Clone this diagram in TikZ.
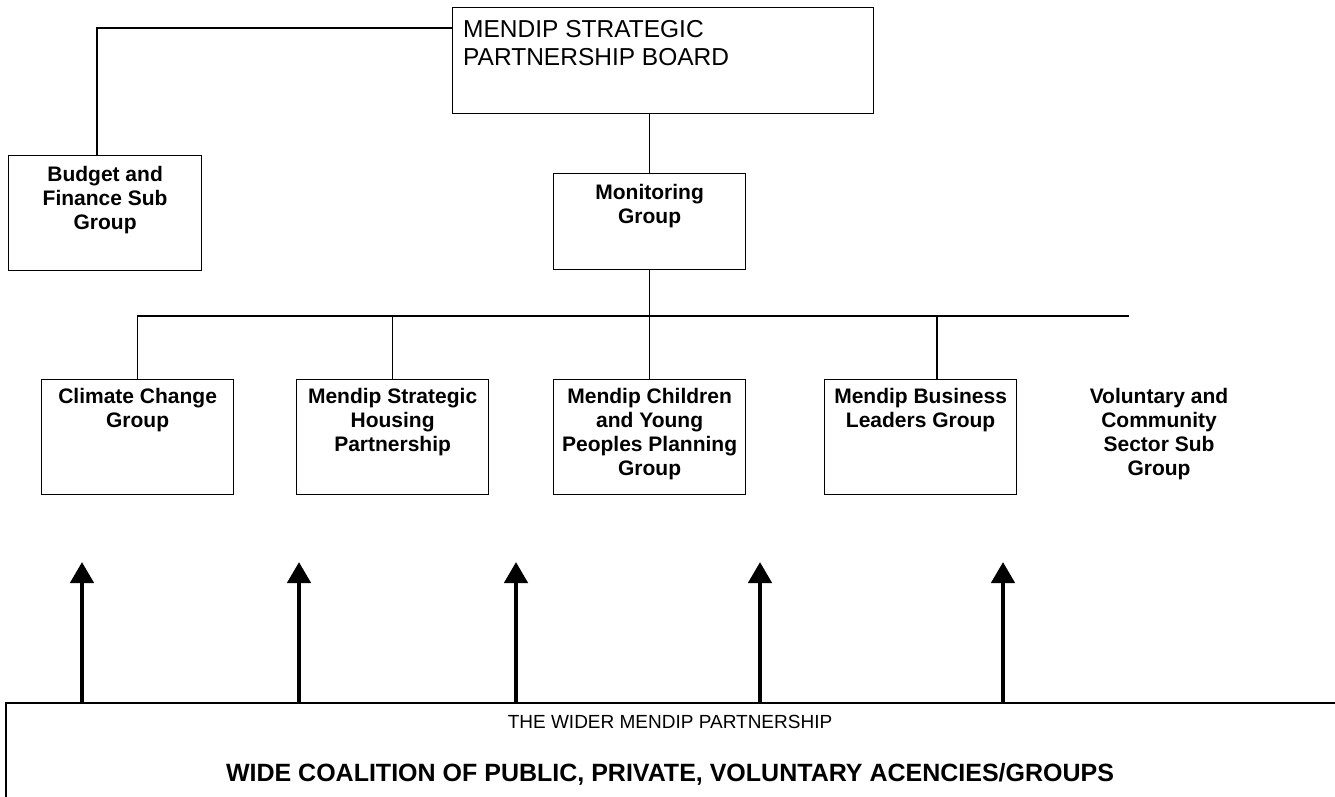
\documentclass[tikz,border=0pt]{standalone}
\usepackage{fontspec}
\setmainfont{Liberation Sans}
\usetikzlibrary{arrows.meta}
\tikzset{>=stealth}

\begin{document}
\begin{tikzpicture}[x=1pt,y=-1pt,
  box/.style={draw,line width=1.2pt,inner sep=0pt,anchor=north west},
  grp/.style={box,minimum width=192pt,minimum height=115pt},
  grptxt/.style={font=\bfseries\fontsize{21}{24}\selectfont,align=center,anchor=north,inner sep=0pt},
  link/.style={line width=1.2pt},
  up/.style={line width=4.5pt,-{Triangle[width=23pt,length=21pt]}}]

\useasboundingbox (0,0) rectangle (1335,796);
\clip (0,0) rectangle (1335,796);

    \node[box,minimum width=421pt,minimum height=106pt] (board) at (452,7) {};
    \node[anchor=north west,inner sep=0pt,align=left,font=\fontsize{24.5}{28}\selectfont] (boardtxt) at (463,20.5) {MENDIP STRATEGIC\\PARTNERSHIP BOARD};

    \node[grp,minimum width=193pt] (budget) at (8,155) {};
    \node[grptxt] (budgettxt) at ([yshift=-11pt]budget.north) {Budget and\\Finance Sub\\Group};

    \node[grp,minimum height=96pt] (mon) at (553,173) {};
    \node[grptxt] (montxt) at ([yshift=-11pt]mon.north) {Monitoring\\Group};

    % working groups
    \node[grp] (climate) at (41,379) {};
    \node[grptxt] (climatetxt) at ([yshift=-9pt]climate.north) {Climate Change\\Group};
    \node[grp] (housing) at (296,379) {};
    \node[grptxt] (housingtxt) at ([yshift=-9pt]housing.north) {Mendip Strategic\\Housing\\Partnership};
    \node[grp] (children) at (553,379) {};
    \node[grptxt] (childrentxt) at ([yshift=-9pt]children.north) {Mendip Children\\and Young\\Peoples Planning\\Group};
    \node[grp] (biz) at (824,379) {};
    \node[grptxt] (biztxt) at ([yshift=-9pt]biz.north) {Mendip Business\\Leaders Group};
    \node[grptxt] (vcs) at (1159,388) {Voluntary and\\Community\\Sector Sub\\Group};

    % links
    \coordinate (bk) at (97,28);
    \draw[link] (bk -| board.west) -- (bk) -- (bk |- budget.north);
    \draw[link] (mon.north) -- (mon.north |- board.south);
    \coordinate (busL) at (137,316);
    \coordinate (busR) at (1129,316);
    \draw[link] (mon.south) -- (mon.south |- busL);
    \draw[link] (busL) -- (busR);
    \foreach \g in {climate,housing,children}
        \draw[link] (\g.north |- busL) -- (\g.north);
    \coordinate (bizdrop) at (937,316);
    \draw[link] (bizdrop) -- (bizdrop |- biz.north);

    % wider partnership
    \node[box,minimum width=1345pt,minimum height=120pt,line width=1.5pt] (wider) at (5,702) {};
    \node[anchor=base,font=\fontsize{19}{22}\selectfont] (widertxt) at (670,728) {THE WIDER MENDIP PARTNERSHIP};
    \node[anchor=base,font=\bfseries\fontsize{25}{28}\selectfont] (coalition) at (670,781) {WIDE COALITION OF PUBLIC, PRIVATE, VOLUNTARY ACENCIES/GROUPS};

    \foreach \x in {82,299,516,760,1003}
        \draw[up] (\x,0 |- wider.north) -- (\x,562);%feeds up
\end{tikzpicture}
\end{document}
